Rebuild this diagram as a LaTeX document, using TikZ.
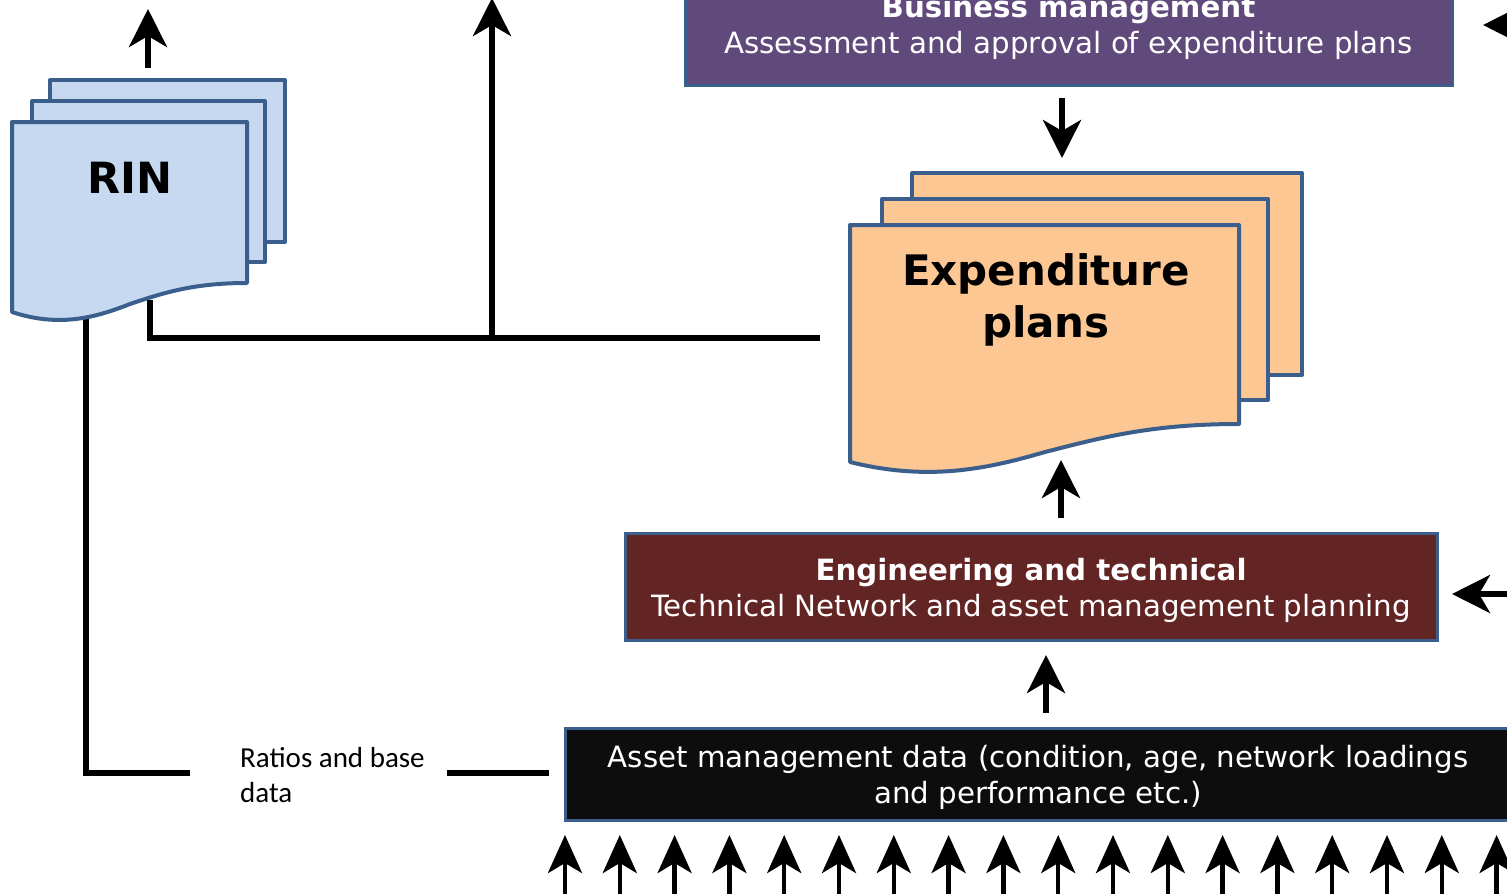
\documentclass[tikz,border=0pt]{standalone}
\usepackage{fontspec}
\setmainfont{DejaVu Sans}
\newfontfamily\calib{Carlito}
\usetikzlibrary{arrows.meta}
\definecolor{bordc}{HTML}{3B5F8D}
\definecolor{bizc}{HTML}{604A7B}
\definecolor{engc}{HTML}{632523}
\definecolor{astc}{HTML}{0D0D0D}
\definecolor{expc}{HTML}{FDC793}
\definecolor{rinc}{HTML}{C6D9F1}
\begin{document}
\begin{tikzpicture}[x=1pt,y=-1pt,
  box/.style={draw=bordc, line width=3pt, text=white, align=center, inner sep=0pt, font=\fontsize{29.3}{36}\selectfont},
  boxtext/.style={text=white, align=center, inner sep=0pt, font=\fontsize{29.3}{36}\selectfont},
  doc/.style={draw=bordc, line width=4pt, line join=round},
  conn/.style={line width=6pt},
  arr/.style={line width=5.5pt, -{Stealth[length=38pt,width=38pt,inset=11pt]}},
  smallarr/.style={line width=4.5pt, -{Stealth[length=38pt,width=34pt,inset=10pt]}},
]
\useasboundingbox (0,0) rectangle (1507,894);
\clip (0,0) rectangle (1507,894);

% named coordinates for connector ends
\coordinate (rinUp) at (148,68);
\coordinate (outA) at (148,9);
\coordinate (rinB) at (150,300);
\coordinate (expL) at (820,338);
\coordinate (jn) at (492,338);
\coordinate (outB) at (492,-2);
\coordinate (rinC) at (86,315);
\coordinate (ratL) at (190,773);
\coordinate (ratR) at (447,773);
\coordinate (bizArr) at (1062,98);
\coordinate (expTop) at (1062,158);
\coordinate (engTop) at (1061,518);
\coordinate (expBot) at (1061,460);
\coordinate (astTop) at (1046,713);
\coordinate (engBot) at (1046,655);
\coordinate (inR1) at (1545,25);
\coordinate (bizR) at (1483,25);
\coordinate (inR2) at (1545,594);
\coordinate (engR) at (1452,594);

% boxes
\node[box, fill=bizc, minimum width=767pt, minimum height=122pt] (biz) at (1068.5,24) {};
\node[boxtext] (bizT) at (1068.5,27.5)
  {\textbf{Business management}\\Assessment and approval of expenditure plans};
\node[box, fill=engc, minimum width=812pt, minimum height=107pt] (eng) at (1031,586.5) {};
\node[boxtext] (engT) at (1031,590)
  {\textbf{Engineering and technical}\\Technical Network and asset management planning};
\node[box, fill=astc, minimum width=946pt, minimum height=92pt] (ast) at (1038,774) {};
\node[boxtext] (astT) at (1038,777.5)
  {Asset management data (condition, age, network loadings\\and performance etc.)};

% connectors (under the documents)
\draw[conn] (rinB) |- (expL);
\draw[arr] (jn) -- (outB);
\draw[conn] (rinC) |- (ratL);
\draw[conn] (ratR) -- ([xshift=-15pt]ast.west |- ratR);
\draw[arr] (rinUp) -- (outA);
\draw[arr] (bizArr) -- (expTop);
\draw[arr] (engTop) -- (expBot);
\draw[arr] (astTop) -- (engBot);
\draw[arr] (inR1) -- (bizR);
\draw[arr] (inR2) -- (engR);
\foreach \i in {0,...,17}{
  \coordinate (inB\i) at ({565+\i*54.8},900);
  \coordinate (inT\i) at ({565+\i*54.8},835);
  \draw[smallarr] (inB\i) -- (inT\i);
}

% Expenditure plans document stack
\filldraw[doc, fill=expc] (912,173) rectangle (1302,375);
\filldraw[doc, fill=expc] (882,199) rectangle (1268,400);
\filldraw[doc, fill=expc] (850,225) -- (1239,225) -- (1239,424)
  .. controls (1150,424) and (1100,438) .. (1045,452)
  .. controls (990,468) and (930,482) .. (850,462) -- cycle;
\node[font=\fontsize{42}{52}\selectfont\bfseries, align=center] (exp) at (1046,300) {Expenditure\\plans};

% RIN document stack
\filldraw[doc, fill=rinc] (50,80) rectangle (285,242);
\filldraw[doc, fill=rinc] (32,101) rectangle (265,262);
\filldraw[doc, fill=rinc] (12,122) -- (247,122) -- (247,283)
  .. controls (193,283) and (163,293) .. (130,304)
  .. controls (97,317) and (60,328) .. (12,312) -- cycle;
\node[font=\fontsize{43}{52}\selectfont\bfseries] (rin) at (130,178) {RIN};

% label
\node[anchor=west, align=left, inner sep=0pt, font=\calib\fontsize{29}{35}\selectfont] (ratio) at (240,775) {Ratios and base\\data};
\end{tikzpicture}
\end{document}
